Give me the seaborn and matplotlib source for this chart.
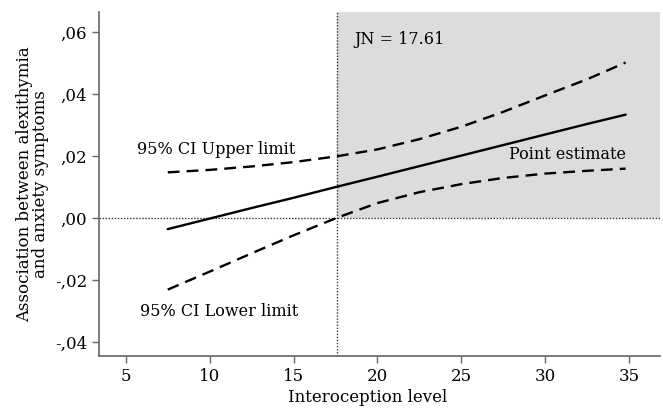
import pandas as pd
import seaborn as sns
import matplotlib.pyplot as plt

# valores (Johnson-Neyman)
interocepcao = [7.5, 10, 12.5, 15, 17.61, 20, 22.5, 25, 27.5, 30, 32.5, 34.8]
estimativa = [-0.0035, -0.0001, 0.0033, 0.0066, 0.0102, 0.0134, 0.0168, 0.0202, 0.0236, 0.0270, 0.0304, 0.0334]
ic_superior = [0.0148, 0.0156, 0.0167, 0.0181, 0.0200, 0.0222, 0.0255, 0.0295, 0.0343, 0.0396, 0.0448, 0.0502]
ic_inferior = [-0.0230, -0.0172, -0.0113, -0.0055, 0.0002, 0.0049, 0.0084, 0.0110, 0.0130, 0.0144, 0.0153, 0.0160]
jn = 17.61

xticks = [5, 10, 15, 20, 25, 30, 35]
yticks = [0.06, 0.04, 0.02, 0.00, -0.02, -0.04]
ytick_labels = [',06', ',04', ',02', ',00', '-,02', '-,04']

data = pd.DataFrame({'x': interocepcao, 'est': estimativa, 'sup': ic_superior, 'inf': ic_inferior})

sns.set_style('ticks')
plt.rcParams['font.family'] = ['DejaVu Serif']
plt.rcParams['text.color'] = 'black'
plt.rcParams['axes.labelcolor'] = 'black'

fig = plt.figure(figsize=(6.63, 4.09), dpi=100)
ax = fig.add_axes([0.1493, 0.1296, 0.8462, 0.8411])
xmin, xmax = 3.4, 36.85
ymin, ymax = -0.0444, 0.0665

ax.fill_between([jn, xmax], 0, ymax, color='#dcdcdc', lw=0, zorder=0)  # região significativa
ax.axhline(0, color='#333333', lw=1, ls=(0, (1, 1.2)), zorder=1)
ax.axvline(jn, color='#333333', lw=1, ls=(0, (1, 1.2)), zorder=1)

sns.lineplot(data=data, x='x', y='est', color='black', lw=1.7, ax=ax)
sns.lineplot(data=data, x='x', y='sup', color='black', lw=1.7, ax=ax).lines[-1].set_dashes((5, 3))
sns.lineplot(data=data, x='x', y='inf', color='black', lw=1.7, ax=ax).lines[-1].set_dashes((5, 3))

ax.text(5.65, 0.0222, '95% CI Upper limit', fontsize=11.5, va='center')
ax.text(34.8, 0.0205, 'Point estimate', fontsize=11.5, va='center', ha='right')
ax.text(5.83, -0.0301, '95% CI Lower limit', fontsize=11.5, va='center')
ax.text(18.63, 0.0575, 'JN = 17.61', fontsize=11.5, va='center')

ax.set_xlim(xmin, xmax)
ax.set_ylim(ymin, ymax)
ax.set_xticks(xticks)
ax.set_yticks(yticks)
ax.set_yticklabels(ytick_labels)
ax.tick_params(labelsize=12, color='#666666', labelcolor='black', length=5, width=1)
ax.set_xlabel('Interoception level', fontsize=12)
ax.set_ylabel('Association between alexithymia\nand anxiety symptoms', fontsize=12, linespacing=0.95)
ax.xaxis.set_label_coords(0.478, -0.097)
sns.despine(ax=ax)
for s in ['left', 'bottom']:
    ax.spines[s].set_color('#666666')
    ax.spines[s].set_linewidth(1.2)

plt.savefig('out.png', dpi=100)
